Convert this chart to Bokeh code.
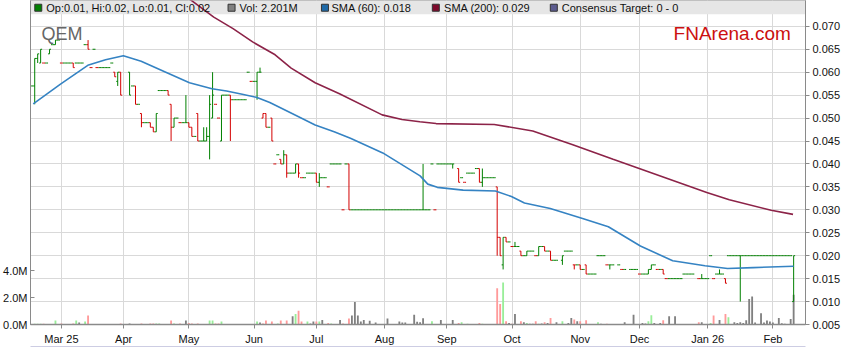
from bokeh.plotting import figure
from bokeh.models import Range1d, LinearAxis, FixedTicker, ColumnDataSource, Label, NumeralTickFormatter
from bokeh.embed import file_html
from bokeh.resources import INLINE

# ---------------- data ----------------
# x = weekday index (0 = Mon 17 Feb 2025 ... 257 = Wed 11 Feb 2026)
month_ticks = [10, 31, 53, 75, 96, 119, 140, 162, 185, 205, 228, 250]
month_labels = ["Mar 25", "Apr", "May", "Jun", "Jul", "Aug", "Sep", "Oct", "Nov", "Dec", "Jan 26", "Feb"]

opens = [
    .057, .057, .063, .062, .062, .062, .064, .066, .066, .067,
    .062, .062, .062, .062, .062, .062, .062, .062, .066, .066,
    .061, .065, .061, .061, .061, .061, .061, .062, .060, .058,
    .060, None, None, .060, .057, .057, .053, .051, .049, .049,
    .049, .048, .047, .056, .056, .056, .056, .053, .048, .050,
    .049, .049, .049, .049, .048, .046, .051, .045, .045, .045,
    .046, .050, .053, .050, .045, .055, .055, .055, .054, .054,
    .054, .054, .054, .060, .058, .058, .058, .060, .050, .051,
    .048, .050, .040, .042, .041, .040, .042, .038, .038, .038,
    .040, .037, .037, .038, .038, .038, .038, .036, .037, .037,
    .035, .040, .040, .040, .040, .030, .040, .040, .030, .030,
    .030, .030, .030, .030, .030, .030, .030, .030, .030, .030,
    .030, .030, .030, .030, .030, .030, .030, .030, .030, .030,
    .030, .030, .030, .030, .030, .040, .030, .040, .040, .040,
    .040, .040, .040, None, .039, .037, .036, .038, .038, .038,
    .039, .039, .036, .037, .037, .037, .037, .035, .024, .018,
    .024, .023, .022, .022, .022, .021, .020, .020, .021, .021,
    .020, .020, .022, .022, .021, .021, .019, .019, None, .019,
    .021, .021, .021, .018, .018, .018, .017, .018, .016, .016,
    .016, .020, .020, .020, .018, .018, .018, None, .018, .017,
    .017, None, .017, .017, .017, .016, .016, .016, .016, .017,
    .018, .017, .017, .017, .015, .015, .015, .015, .015, .015,
    .016, .016, .016, .016, None, .015, .015, .015, .015, .020,
    .015, .016, .016, .016, .015, .020, .020, .020, .020, .020,
    .020, .020, .020, .020, .020, .020, .020, .020, .020, .020,
    .020, .020, .020, .020, .020, .020, .020, .010,
]
highs = [
    .057, .063, .064, .065, .062, .062, .065, .066, .067, .067,
    .062, .062, .062, .062, .062, .062, .062, .062, .066, .067,
    .061, .065, .061, .061, .061, .061, .061, .062, .060, .060,
    .060, None, None, .060, .057, .057, .053, .051, .049, .049,
    .049, .048, .051, .056, .056, .056, .056, .053, .050, .050,
    .049, .049, .055, .049, .048, .046, .051, .045, .048, .048,
    .055, .060, .053, .050, .055, .055, .055, .055, .054, .054,
    .054, .054, .054, .060, .058, .058, .060, .061, .051, .051,
    .048, .050, .040, .042, .041, .043, .042, .038, .038, .040,
    .040, .037, .037, .038, .038, .038, .038, .038, .037, .037,
    .035, .040, .040, .040, .040, .030, .040, .040, .030, .030,
    .030, .030, .030, .030, .030, .030, .030, .030, .030, .030,
    .030, .030, .030, .030, .030, .030, .030, .030, .030, .030,
    .030, .030, .040, .030, .030, .040, .030, .040, .040, .040,
    .040, .040, .040, None, .039, .037, .036, .038, .038, .038,
    .039, .039, .039, .037, .037, .037, .037, .035, .024, .024,
    .024, .023, .022, .023, .022, .021, .020, .021, .021, .021,
    .020, .022, .022, .022, .021, .021, .019, .019, None, .020,
    .021, .021, .021, .018, .018, .018, .017, .018, .016, .016,
    .016, .020, .020, .020, .018, .018, .018, None, .018, .017,
    .017, None, .017, .017, .017, .016, .016, .016, .017, .018,
    .018, .017, .017, .017, .015, .015, .015, .015, .015, .015,
    .016, .016, .016, .016, None, .015, .016, .015, .015, .020,
    .015, .016, .017, .016, .015, .020, .020, .020, .020, .020,
    .020, .020, .020, .020, .020, .020, .020, .020, .020, .020,
    .020, .020, .020, .020, .020, .020, .020, .020,
]
lows = [
    .057, .053, .062, .062, .062, .062, .064, .066, .066, .067,
    .062, .062, .062, .062, .061, .062, .062, .062, .066, .065,
    .061, .065, .061, .061, .061, .061, .061, .062, .059, .057,
    .055, None, None, .055, .057, .053, .053, .048, .049, .049,
    .048, .047, .047, .056, .056, .056, .055, .045, .048, .050,
    .049, .049, .049, .048, .046, .046, .045, .045, .045, .045,
    .041, .050, .053, .050, .045, .055, .055, .045, .054, .054,
    .054, .054, .054, .060, .058, .058, .054, .060, .050, .048,
    .048, .045, .040, .042, .040, .040, .037, .038, .038, .038,
    .037, .037, .037, .038, .038, .038, .036, .035, .037, .037,
    .035, .040, .040, .040, .040, .030, .040, .030, .030, .030,
    .030, .030, .030, .030, .030, .030, .030, .030, .030, .030,
    .030, .030, .030, .030, .030, .030, .030, .030, .030, .030,
    .030, .030, .030, .030, .030, .040, .030, .040, .040, .040,
    .040, .040, .039, None, .036, .037, .036, .038, .038, .038,
    .039, .036, .035, .037, .037, .037, .037, .020, .020, .017,
    .023, .023, .022, .022, .022, .020, .020, .020, .021, .021,
    .020, .020, .022, .021, .021, .019, .019, .019, None, .018,
    .021, .021, .021, .017, .018, .017, .017, .016, .016, .016,
    .016, .020, .020, .020, .018, .017, .018, None, .018, .017,
    .017, None, .017, .017, .017, .016, .016, .016, .016, .017,
    .018, .017, .017, .016, .015, .015, .015, .015, .015, .015,
    .016, .016, .016, .016, None, .015, .015, .015, .015, .020,
    .015, .016, .016, .016, .014, .020, .020, .020, .020, .010,
    .020, .020, .020, .020, .020, .020, .020, .020, .020, .020,
    .020, .020, .020, .020, .020, .020, .020, .010,
]
closes = [
    .057, .063, .064, .065, .062, .062, .065, .066, .067, .067,
    .062, .062, .062, .062, .061, .062, .062, .062, .066, .065,
    .061, .065, .061, .061, .061, .061, .061, .062, .059, .060,
    .055, None, None, .055, .057, .053, .053, .049, .049, .049,
    .048, .047, .051, .056, .056, .056, .055, .048, .050, .050,
    .049, .049, .049, .048, .046, .046, .045, .045, .045, .046,
    .053, .055, .053, .050, .055, .055, .055, .054, .054, .054,
    .054, .054, .054, .060, .058, .058, .060, .060, .051, .048,
    .048, .045, .040, .042, .040, .042, .038, .038, .038, .040,
    .038, .037, .037, .038, .038, .038, .036, .037, .037, .037,
    .035, .040, .040, .040, .040, .030, .040, .030, .030, .030,
    .030, .030, .030, .030, .030, .030, .030, .030, .030, .030,
    .030, .030, .030, .030, .030, .030, .030, .030, .030, .030,
    .030, .030, .030, .030, .030, .040, .030, .040, .040, .040,
    .040, .040, .040, None, .036, .037, .036, .038, .038, .038,
    .039, .036, .037, .037, .037, .037, .037, .024, .020, .024,
    .023, .023, .022, .022, .022, .020, .020, .021, .021, .021,
    .020, .022, .022, .021, .021, .019, .019, .019, None, .020,
    .021, .021, .021, .018, .018, .017, .017, .016, .016, .016,
    .016, .020, .020, .020, .018, .018, .018, None, .018, .017,
    .017, None, .017, .017, .017, .016, .016, .016, .017, .018,
    .018, .017, .017, .016, .015, .015, .015, .015, .015, .015,
    .016, .016, .016, .016, None, .015, .015, .015, .015, .020,
    .015, .016, .016, .016, .014, .020, .020, .020, .020, .020,
    .020, .020, .020, .020, .020, .020, .020, .020, .020, .020,
    .020, .020, .020, .020, .020, .020, .020, .020,
]
# volume in millions of shares
volumes_m = [
    0, .05, .05, .05, .05, 0, 0, 0, .29, 0,
    .07, 0, 0, 0, .07, .29, .15, 0, .22, .66,
    0, 0, 0, 0, 0, 0, 0, 0, 0, 0,
    .07, None, None, .07, 0, 0, 0, .07, 0, 0,
    .07, .07, .07, .07, 0, 0, 0, .29, .07, 0,
    .07, 0, .29, .12, .07, 0, .07, 0, 0, 0,
    .29, .29, .07, .07, .22, 0, 0, 0, 0, 0,
    0, 0, 0, 0, 0, 0, .22, .15, .07, .29,
    0, .22, 0, .07, .29, 0, .29, 0, .61, .78,
    1.02, .22, 0, .22, .07, .22, .22, .22, .34, 0,
    .12, .07, 0, 0, .34, .07, 0, .44, .66, 1.66,
    .66, .22, .34, 0, .27, 0, .15, 0, 0, 0,
    .44, 0, 0, 0, .22, .15, .15, 0, 0, .73,
    .20, .17, .46, 0, 0, .24, 0, 0, .34, 0,
    0, 0, .34, None, .12, .17, 0, .05, 0, 0,
    0, .12, .05, 0, 0, 0, 0, 2.68, 1.51, 3.12,
    .24, .12, .05, .78, 0, .24, .17, .12, .05, .05,
    .24, .05, .07, .17, .12, .49, 0, .17, None, .24,
    0, .12, .49, .37, .24, .24, 0, .32, 0, 0,
    0, .17, .05, 0, .05, 0, 0, None, 0, 0,
    .17, None, 0, .73, 0, 0, .12, .07, .24, .68,
    .12, 0, .12, .32, 0, .61, 0, .61, 0, 0,
    0, 0, 0, 0, None, .17, .17, 0, 0, .12,
    .66, 0, .34, 0, .78, .54, 0, .17, .12, .17,
    .12, .32, 1.88, 2.08, .15, 0, .84, .15, .29, .22,
    .15, 0, .49, .10, .05, 0, .41, 2.201,
]

sma60_idx = [0.5, 9.7, 18.9, 24.9, 30.9, 36.9, 45.6, 53.2, 60.8, 65.7, 71.0, 76.0,
             80.3, 89.0, 95.6, 102.0, 107.5, 118.4, 131.0, 133.6, 136.8, 145.5, 156.4,
             161.8, 166.2, 174.9, 185.8, 194.5, 205.3, 216.2, 227.1, 234.7, 243.4, 257.0]
sma60_val = [0.0531, 0.0574, 0.0615, 0.0627, 0.0636, 0.0624, 0.0599, 0.0577, 0.0564, 0.0559,
             0.0552, 0.0545, 0.0534, 0.0506, 0.0485, 0.0470, 0.0456, 0.0424, 0.0374, 0.0356,
             0.0349, 0.0343, 0.0341, 0.0329, 0.0315, 0.0303, 0.0281, 0.0263, 0.0221, 0.0189,
             0.0178, 0.0172, 0.0174, 0.0177]

sma200_idx = [45.0, 52.5, 61.4, 67.9, 74.5, 82.1, 87.5, 95.6, 103.8, 118.2, 124.9, 130.9,
              136.4, 156.0, 169.0, 182.5, 196.1, 204.9, 227.7, 235.3, 249.4, 256.8]
sma200_val = [0.0790, 0.0763, 0.0720, 0.0695, 0.0666, 0.0638, 0.0609, 0.0577, 0.0553, 0.0507,
              0.0497, 0.0492, 0.0488, 0.0486, 0.0472, 0.0442, 0.0410, 0.0390, 0.0338, 0.0322,
              0.0299, 0.0290]

price_ticks = [0.005, 0.010, 0.015, 0.020, 0.025, 0.030, 0.035, 0.040,
               0.045, 0.050, 0.055, 0.060, 0.065, 0.070]
vol_ticks = [0, 2, 4]
vol_tick_labels = ["0.0M", "2.0M", "4.0M"]

ticker_name = "QEM"
site_name = "FNArena.com"
consensus_text = "Consensus Target: 0 - 0"

# ---------------- styling ----------------
FONT = "Liberation Sans"
UP = "#008000"
DOWN = "#d40000"
VOL_UP = "#99ee99"
VOL_DOWN = "#ff9a9a"
VOL_FLAT = "#808080"
SMA60_COLOR = "#3583c3"
SMA200_COLOR = "#8c2348"
GRID = "#d9d9d9"
AXIS = "#8a8a8a"

xs, o, h, l, c, xl, xr, col, vt, vcol = [], [], [], [], [], [], [], [], [], []
prev = None
for i in range(len(closes)):
    if closes[i] is None:
        continue
    d = 0 if prev is None else (1 if closes[i] > prev else (-1 if closes[i] < prev else 0))
    prev = closes[i]
    xs.append(i)
    o.append(opens[i]); h.append(highs[i]); l.append(lows[i]); c.append(closes[i])
    xl.append(i - 0.5); xr.append(i + 0.5)
    col.append(DOWN if d < 0 else UP)
    vt.append(volumes_m[i] or 0)
    vcol.append(VOL_UP if d > 0 else (VOL_DOWN if d < 0 else VOL_FLAT))

src = ColumnDataSource(dict(x=xs, o=o, h=h, l=l, c=c, xl=xl, xr=xr, col=col, vt=vt, vcol=vcol))

p = figure(width=843, height=347, output_backend="svg", toolbar_location=None,
           x_range=Range1d(-0.42, 261.0), y_range=Range1d(0.005, 0.07563),
           y_axis_location="right", min_border_left=4, min_border_right=4,
           min_border_top=0, min_border_bottom=0)
p.background_fill_color = "white"
p.border_fill_color = "white"
p.outline_line_color = "#9a9a9a"
p.extra_y_ranges = {"vol": Range1d(0, 24.0)}

# grids
p.xgrid.ticker = FixedTicker(ticks=month_ticks)
p.ygrid.ticker = FixedTicker(ticks=price_ticks)
for g in (p.xgrid, p.ygrid):
    g.grid_line_color = GRID
    g.grid_line_width = 1

# right price axis
ya = p.yaxis[0]
ya.ticker = FixedTicker(ticks=price_ticks)
ya.formatter = NumeralTickFormatter(format="0.000")
ya.major_tick_out = 4
ya.major_tick_in = 0
ya.minor_tick_line_color = None
ya.major_label_standoff = 3
ya.axis_line_color = AXIS
ya.major_tick_line_color = AXIS
ya.major_label_text_font = FONT
ya.major_label_text_font_size = "11px"
ya.major_label_text_color = "#111111"

# left volume axis
va = LinearAxis(y_range_name="vol", ticker=FixedTicker(ticks=vol_ticks),
                major_label_overrides={t: s for t, s in zip(vol_ticks, vol_tick_labels)})
va.major_tick_in = 4
va.major_tick_out = 0
va.minor_tick_line_color = None
va.major_label_standoff = 3
va.axis_line_color = AXIS
va.major_tick_line_color = AXIS
va.major_label_text_font = FONT
va.major_label_text_font_size = "11px"
va.major_label_text_color = "#111111"
p.add_layout(va, "left")

# bottom date axis
xa = p.xaxis[0]
xa.ticker = FixedTicker(ticks=month_ticks)
xa.major_label_overrides = {t: s for t, s in zip(month_ticks, month_labels)}
xa.major_tick_out = 4
xa.major_tick_in = 0
xa.minor_tick_line_color = None
xa.major_label_standoff = 4
xa.axis_line_color = AXIS
xa.axis_line_width = 1.5
xa.major_tick_line_color = AXIS
xa.major_label_text_font = FONT
xa.major_label_text_font_size = "11px"
xa.major_label_text_color = "#111111"

nav = LinearAxis(ticker=FixedTicker(ticks=[]), major_label_text_font_size="0px",
                 axis_line_color="#9c9cc8", axis_line_width=2,
                 major_tick_line_color=None, minor_tick_line_color=None)
p.add_layout(nav, "below")

# legend band
p.quad(left=-1, right=262, bottom=0.07263, top=0.08, fill_color="#e6e6e6", line_color=None)

# volume bars
p.vbar(x="x", top="vt", bottom=0, width=0.62, y_range_name="vol",
       fill_color="vcol", line_color=None, source=src)

# OHLC bars
p.segment(x0="x", y0="l", x1="x", y1="h", line_color="col", line_width=1, source=src)
p.segment(x0="xl", y0="o", x1="x", y1="o", line_color="col", line_width=1, source=src)
p.segment(x0="x", y0="c", x1="xr", y1="c", line_color="col", line_width=1, source=src)

# moving averages
p.line(sma60_idx, sma60_val, line_color=SMA60_COLOR, line_width=1.6)
p.line(sma200_idx, sma200_val, line_color=SMA200_COLOR, line_width=1.6)

# legend items
last = len(closes) - 1
legend_texts = [
    f"Op:{opens[last]:.2f}, Hi:{highs[last]:.2f}, Lo:{lows[last]:.2f}, Cl:{closes[last]:.2f}",
    f"Vol: {volumes_m[last]:.3f}M",
    f"SMA (60): {sma60_val[-1]:.3f}",
    f"SMA (200): {sma200_val[-1]:.3f}",
    consensus_text,
]
legend_colors = ["#008000", "#808080", "#1f6aa8", "#7e0a2c", "#5c5c90"]
legend_sq_x = [2.2, 67.4, 98.9, 136.3, 176.1]
legend_tx_x = [4.9, 70.1, 101.1, 139.1, 178.8]
legend_y = 0.07405
p.scatter(legend_sq_x, [legend_y] * 5, marker="square", size=7,
          fill_color=legend_colors, line_color="#333333", line_width=1)
for tx, s in zip(legend_tx_x, legend_texts):
    p.add_layout(Label(x=tx, y=legend_y, text=s, text_baseline="middle", text_align="left",
                       text_font=FONT, text_font_size="11px", text_color="#111111"))

p.add_layout(Label(x=3.3, y=0.0684, text=ticker_name, text_baseline="alphabetic",
                   text_font=FONT, text_font_size="18px", text_color="#666666"))
p.add_layout(Label(x=216.5, y=0.0684, text=site_name, text_baseline="alphabetic",
                   text_font=FONT, text_font_size="19px", text_color="#cc1010"))

open("out.html", "w").write(file_html(p, INLINE))
